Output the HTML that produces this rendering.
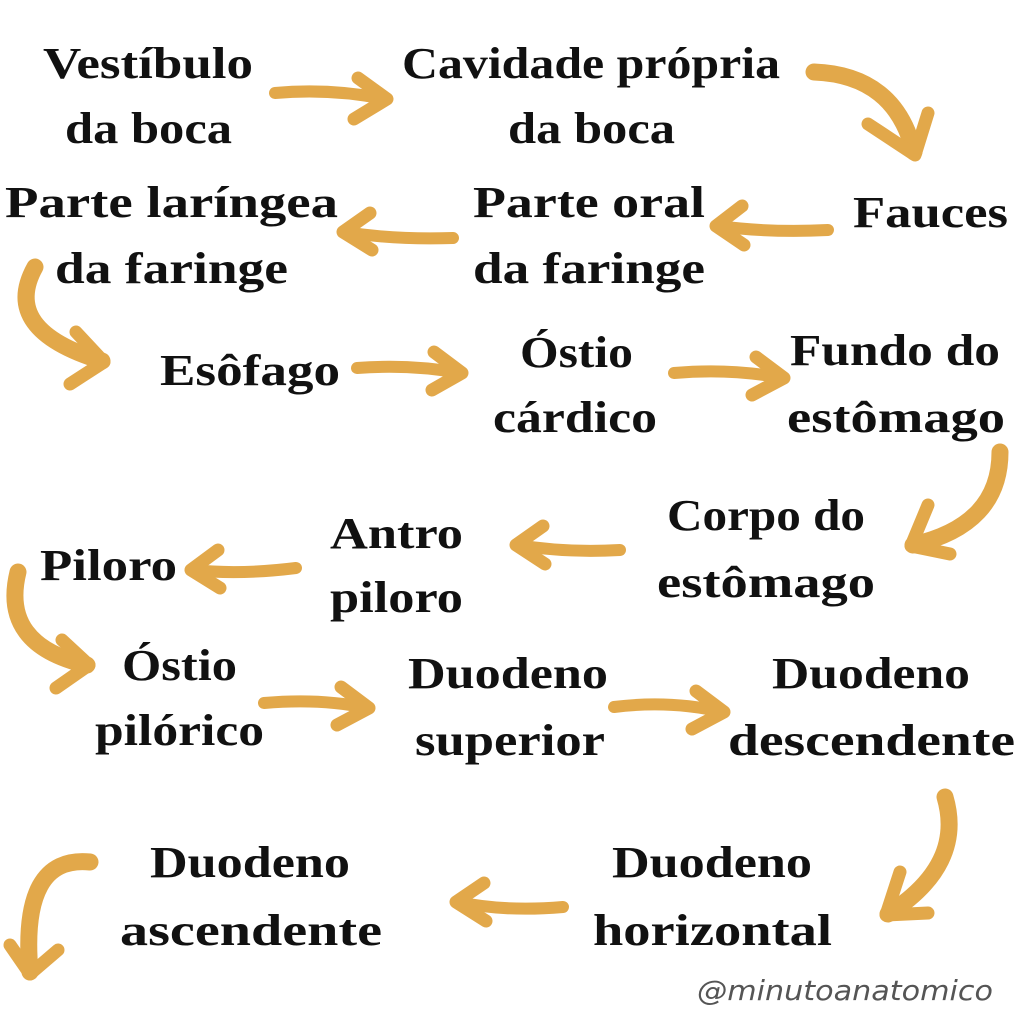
<!DOCTYPE html>
<html><head><meta charset="utf-8"><style>
html,body{margin:0;padding:0;background:#fff}
svg{display:block}
text{font-family:"Liberation Serif",serif;font-weight:bold;font-size:44px;fill:#111}
.a path,.a polyline{fill:none;stroke:#E2A84A;stroke-linecap:round;stroke-linejoin:round}
.a path{stroke-width:12}
.a polyline{stroke-width:13}
.a path.c{stroke-width:17}
</style></head><body>
<svg width="1024" height="1024" viewBox="0 0 1024 1024">
<g>
<text x="43" y="78" textLength="210" lengthAdjust="spacingAndGlyphs">Vestíbulo</text>
<text x="65" y="143" textLength="167" lengthAdjust="spacingAndGlyphs">da boca</text>
<text x="402" y="78" textLength="378" lengthAdjust="spacingAndGlyphs">Cavidade própria</text>
<text x="508" y="143" textLength="167" lengthAdjust="spacingAndGlyphs">da boca</text>
<text x="853" y="227" textLength="155" lengthAdjust="spacingAndGlyphs">Fauces</text>
<text x="5" y="217" textLength="333" lengthAdjust="spacingAndGlyphs">Parte laríngea</text>
<text x="55" y="283" textLength="233" lengthAdjust="spacingAndGlyphs">da faringe</text>
<text x="473" y="217" textLength="232" lengthAdjust="spacingAndGlyphs">Parte oral</text>
<text x="473" y="283" textLength="232" lengthAdjust="spacingAndGlyphs">da faringe</text>
<text x="160" y="385" textLength="180" lengthAdjust="spacingAndGlyphs">Esôfago</text>
<text x="520" y="367" textLength="113" lengthAdjust="spacingAndGlyphs">Óstio</text>
<text x="493" y="432" textLength="164" lengthAdjust="spacingAndGlyphs">cárdico</text>
<text x="790" y="365" textLength="210" lengthAdjust="spacingAndGlyphs">Fundo do</text>
<text x="787" y="432" textLength="218" lengthAdjust="spacingAndGlyphs">estômago</text>
<text x="667" y="530" textLength="198" lengthAdjust="spacingAndGlyphs">Corpo do</text>
<text x="657" y="597" textLength="218" lengthAdjust="spacingAndGlyphs">estômago</text>
<text x="330" y="548" textLength="133" lengthAdjust="spacingAndGlyphs">Antro</text>
<text x="330" y="612" textLength="133" lengthAdjust="spacingAndGlyphs">piloro</text>
<text x="40" y="580" textLength="137" lengthAdjust="spacingAndGlyphs">Piloro</text>
<text x="122" y="680" textLength="115" lengthAdjust="spacingAndGlyphs">Óstio</text>
<text x="95" y="745" textLength="169" lengthAdjust="spacingAndGlyphs">pilórico</text>
<text x="408" y="688" textLength="200" lengthAdjust="spacingAndGlyphs">Duodeno</text>
<text x="415" y="755" textLength="190" lengthAdjust="spacingAndGlyphs">superior</text>
<text x="772" y="688" textLength="198" lengthAdjust="spacingAndGlyphs">Duodeno</text>
<text x="728" y="755" textLength="287" lengthAdjust="spacingAndGlyphs">descendente</text>
<text x="612" y="877" textLength="200" lengthAdjust="spacingAndGlyphs">Duodeno</text>
<text x="593" y="945" textLength="239" lengthAdjust="spacingAndGlyphs">horizontal</text>
<text x="150" y="877" textLength="200" lengthAdjust="spacingAndGlyphs">Duodeno</text>
<text x="120" y="945" textLength="262" lengthAdjust="spacingAndGlyphs">ascendente</text>
<text x="697" y="1000" textLength="296" lengthAdjust="spacingAndGlyphs" style="font-family:'DejaVu Sans',cursive;font-weight:normal;font-style:italic;font-size:28px;fill:#555">@minutoanatomico</text>
</g>
<g class="a">
<path d="M275 93 Q330 88 385 99"/><polyline points="358,78 387,99 354,119"/>
<path class="c" d="M814 72 Q895 75 914 152"/><polyline points="868,124 915,155 928,113"/>
<path d="M828 230 Q770 233 718 226"/><polyline points="742,206 716,226 744,245"/>
<path d="M453 238 Q395 240 345 232"/><polyline points="370,213 343,232 372,250"/>
<path class="c" d="M35 267 Q0 330 102 361"/><polyline points="76,332 104,362 70,384"/>
<path d="M357 368 Q410 364 460 373"/><polyline points="434,352 462,373 432,390"/>
<path d="M674 373 Q730 368 782 378"/><polyline points="756,357 784,378 752,395"/>
<path class="c" d="M1000 452 Q1000 525 913 545"/><polyline points="928,505 911,546 950,554"/>
<path d="M620 550 Q565 553 518 545"/><polyline points="543,526 516,545 545,564"/>
<path d="M296 568 Q240 575 193 570"/><polyline points="218,550 191,570 220,588"/>
<path class="c" d="M18 572 Q0 645 87 665"/><polyline points="62,640 89,665 56,688"/>
<path d="M264 703 Q320 698 367 708"/><polyline points="341,687 369,708 337,725"/>
<path d="M614 707 Q670 700 722 712"/><polyline points="696,691 724,712 692,729"/>
<path class="c" d="M945 797 Q965 865 888 914"/><polyline points="900,872 886,915 928,913"/>
<path d="M563 907 Q505 912 458 902"/><polyline points="484,883 456,902 486,921"/>
<path class="c" d="M90 862 Q20 855 30 972"/><polyline points="10,945 30,974 58,950"/>
</g>
</svg>
</body></html>
